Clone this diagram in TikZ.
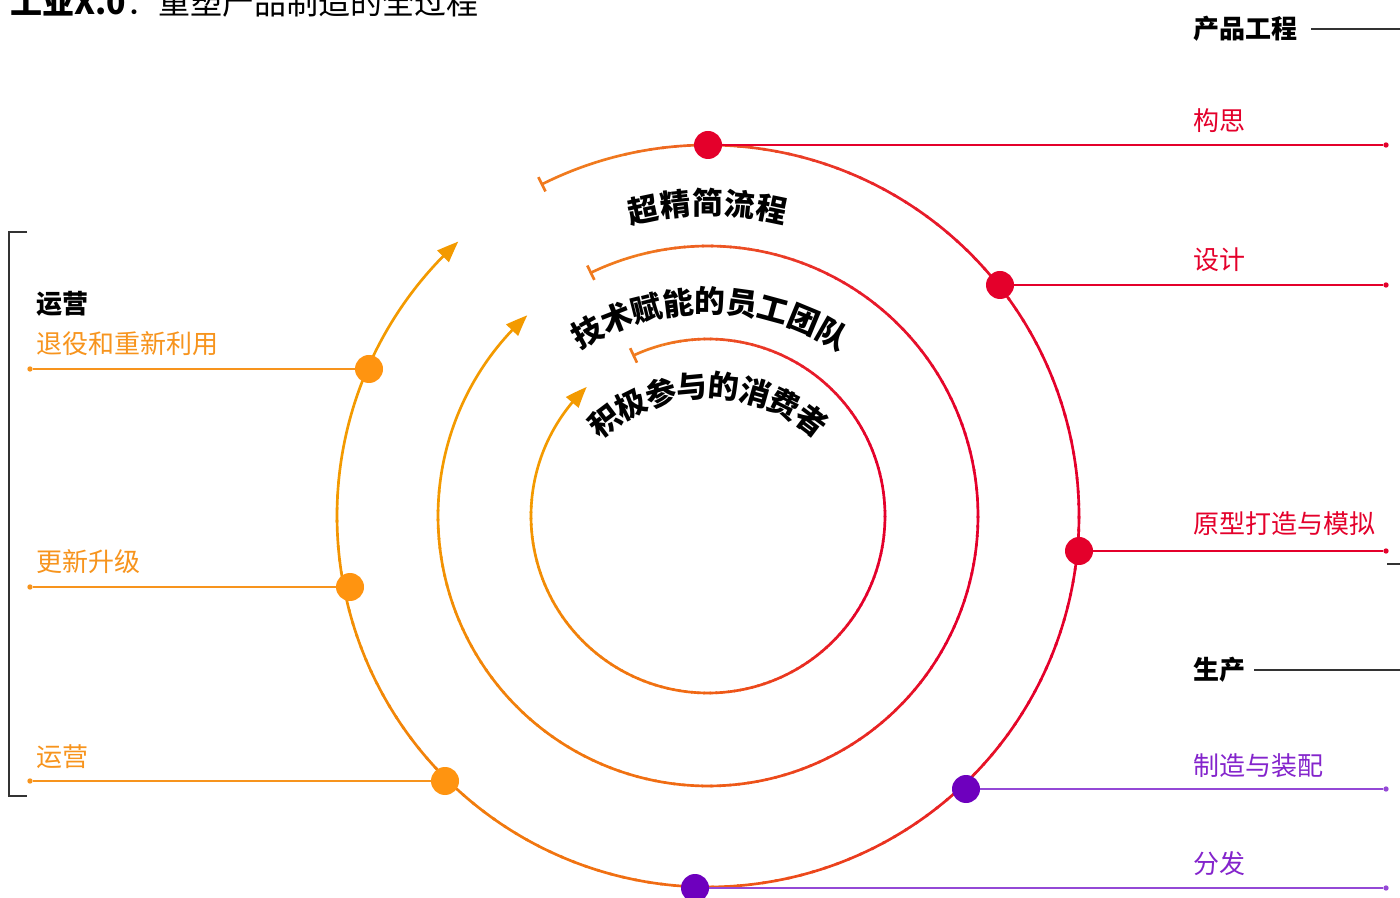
\documentclass[tikz,border=0pt]{standalone}
\usepackage{fontspec}
\setmainfont{Noto Sans CJK SC}
\usetikzlibrary{arrows.meta,bending}
\definecolor{cred}{HTML}{E4002B}
\definecolor{corg}{HTML}{F7941D}
\definecolor{corgdot}{HTML}{FF9410}
\definecolor{cpur}{HTML}{8424CC}
\definecolor{cpurline}{HTML}{9448D6}
\definecolor{cpurdot}{HTML}{6E00BE}
\definecolor{cgray}{HTML}{333333}
\definecolor{gA}{HTML}{F07A1E}
\definecolor{gB}{HTML}{E8202A}
\definecolor{gR}{HTML}{E4002B}
\definecolor{gC}{HTML}{F06A14}
\definecolor{gD}{HTML}{F39A00}
% gradient arc piece: radius, start angle, end angle, colour A, colour B
\newcommand\gseg[5]{%
  \pgfmathtruncatemacro\gn{max(1,round(abs(#3-#2)/2))}%
  \foreach \k in {1,...,\gn}{%
    \pgfmathsetmacro\ga{#2+(#3-#2)*(\k-1)/\gn}%
    \pgfmathsetmacro\gb{#2+(#3-#2)*\k/\gn+0.4*sign(#3-#2)}%
    \pgfmathtruncatemacro\gp{round(100*(\k-0.5)/\gn)}%
    \draw[arcline,draw=#5!\gp!#4] ([shift={(\ga:#1)}]C) arc[start angle=\ga,end angle=\gb,radius=#1];
  }}
% full ring: radius, start angle, tip angle
\newcommand\ringarc[3]{%
  \draw[arcline,draw=gA,arrows={Bar[width=12pt]-}] ([shift={(#2:#1)}]C) arc[start angle=#2,end angle=105,radius=#1];
  \gseg{#1}{105}{60}{gA}{gB}%
  \gseg{#1}{60}{20}{gB}{gR}%
  \gseg{#1}{20}{-30}{gR}{gR}%
  \gseg{#1}{-30}{-95}{gR}{gC}%
  \gseg{#1}{-95}{-185}{gC}{gD}%
  \draw[arcline,draw=gD,arrows={-Triangle[length=16pt,width=12pt,bend]}] ([shift={(-185:#1)}]C) arc[start angle=-185,end angle=#3,radius=#1];
}
\begin{document}
\begin{tikzpicture}[x=0.75pt,y=0.75pt,
  arcline/.style={line width=2pt,line cap=butt},
  lab/.style={anchor=west,inner sep=0pt,font=\fontsize{19.5}{19.5}\selectfont},
  head/.style={lab,font=\fontsize{19.5}{19.5}\selectfont\bfseries,text=black},
  bigdot/.style={circle,inner sep=0pt,minimum size=21pt},
  enddot/.style={circle,inner sep=0pt,minimum size=4pt},
  conn/.style={line width=1.2pt},
  hline/.style={line width=1.1pt,draw=cgray},
  ctext/.style={inner sep=0pt,anchor=center,font=\fontsize{23}{23}\selectfont\bfseries}
]
\clip (0,0) rectangle (1400,897);
\fill[white] (0,0) rectangle (1400,897);
\coordinate (C) at (708,381);
\coordinate (C2) at (708,346);
\coordinate (C3) at (708,339);
\coordinate (xR) at (1386,0);
\coordinate (xL) at (30,0);

% title (cut at the top)
\node[anchor=base west,inner sep=0pt,font=\fontsize{24}{24}\selectfont] (title) at (10,882) {\textbf{工业X.0}：重塑产品制造的全过程};

% rings
\ringarc{371}{116.8}{-227.7}
\ringarc{270}{116.0}{-228.0}
\ringarc{177}{115.3}{-226.8}

% curved texts, one character at a time
\foreach \ch [count=\i] in {超,精,简,流,程}{%
  \pgfmathsetmacro\ang{101.9-(\i-1)*23.6/4}
  \node[ctext,rotate=\ang-90] (ta-\i) at ([shift={(\ang:313)}]C) {\ch};
}
\foreach \ch [count=\i] in {技,术,赋,能,的,员,工,团,队}{%
  \pgfmathsetmacro\ang{118.8-(\i-1)*58.6/8}
  \node[ctext,rotate=\ang-90] (tb-\i) at ([shift={(\ang:250)}]C2) {\ch};
}
\foreach \ch [count=\i] in {积,极,参,与,的,消,费,者}{%
  \pgfmathsetmacro\ang{127-(\i-1)*74/7}
  \node[ctext,rotate=\ang-90] (tc-\i) at ([shift={(\ang:172)}]C3) {\ch};
}

% dots on the outer ring
\node[bigdot,fill=cred] (d1) at (708,752) {};
\node[bigdot,fill=cred] (d2) at (1000,612) {};
\node[bigdot,fill=cred] (d3) at (1079,346) {};
\node[bigdot,fill=cpurdot] (d4) at (966,108) {};
\node[bigdot,fill=cpurdot] (d5) at (695,9) {};
\node[bigdot,fill=corgdot] (d6) at (445,116) {};
\node[bigdot,fill=corgdot] (d7) at (350,310) {};
\node[bigdot,fill=corgdot] (d8) at (369,528) {};

% right side end points
\node[enddot,fill=cred] (e1) at (d1 -| xR) {};
\node[enddot,fill=cred] (e2) at (d2 -| xR) {};
\node[enddot,fill=cred] (e3) at (d3 -| xR) {};
\node[enddot,fill=cpurline] (e4) at (d4 -| xR) {};
\node[enddot,fill=cpurline] (e5) at (d5 -| xR) {};
% left side end points
\node[enddot,fill=corg] (e6) at (d6 -| xL) {};
\node[enddot,fill=corg] (e7) at (d7 -| xL) {};
\node[enddot,fill=corg] (e8) at (d8 -| xL) {};

\draw[conn,cred] (d1) -- (e1);
\draw[conn,cred] (d2) -- (e2);
\draw[conn,cred] (d3) -- (e3);
\draw[conn,cpurline] (d4) -- (e4);
\draw[conn,cpurline] (d5) -- (e5);
\draw[conn,corg] (d6) -- (e6);
\draw[conn,corg] (d7) -- (e7);
\draw[conn,corg] (d8) -- (e8);

% right labels
\node[head] (h1) at (1193,868.5) {产品工程};
\node[lab,text=cred] (l1) at (1193,776) {构思};
\node[lab,text=cred] (l2) at (1193,637) {设计};
\node[lab,text=cred] (l3) at (1193,373) {原型打造与模拟};
\node[head] (h2) at (1193,227) {生产};
\node[lab,text=cpur] (l4) at (1193,131) {制造与装配};
\node[lab,text=cpur] (l5) at (1193,33) {分发};

\coordinate (h1a) at (1311,868);
\coordinate (h1b) at (1400,868);
\coordinate (h2a) at (1254,227);
\coordinate (h2b) at (1400,227);
\coordinate (h3a) at (1387,333);
\coordinate (h3b) at (1400,333);
\draw[hline] (h1a) -- (h1b);
\draw[hline] (h2a) -- (h2b);
\draw[hline] (h3a) -- (h3b);

% left labels
\node[head] (h4) at (36,593.5) {运营};
\node[lab,text=corg] (l6) at (36,553.5) {退役和重新利用};
\node[lab,text=corg] (l7) at (36,335.5) {更新升级};
\node[lab,text=corg] (l8) at (36,140.5) {运营};

% bracket
\coordinate (b1) at (27,665);
\coordinate (b2) at (9,665);
\coordinate (b3) at (9,101);
\coordinate (b4) at (27,101);
\draw[hline] (b1) -- (b2) -- (b3) -- (b4);
\end{tikzpicture}
\end{document}
